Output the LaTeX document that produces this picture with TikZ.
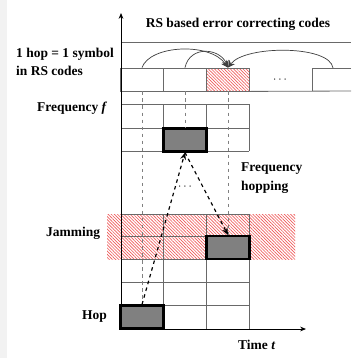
\documentclass[tikz,border=0pt]{standalone}
\usepackage{fontspec}
\setmainfont{Liberation Serif}
\usetikzlibrary{arrows.meta, patterns.meta, positioning}
\definecolor{gridgray}{RGB}{105,105,105}
\definecolor{hopgray}{RGB}{128,128,128}
\definecolor{jamred}{RGB}{240,90,90}

\begin{document}
\begin{tikzpicture}[x=0.03cm,y=-0.03cm,
    lbl/.style={font=\fontsize{11.5}{15.5}\selectfont\bfseries,inner sep=0pt},
    gridline/.style={draw=gridgray,line width=0.7pt},
    symbox/.style={rectangle,draw=gridgray,line width=0.7pt,minimum width=1.29cm,minimum height=0.69cm,inner sep=0pt},
    hopbox/.style={rectangle,draw=black,fill=hopgray,line width=1.8pt,minimum width=1.29cm,minimum height=0.69cm,inner sep=0pt},
    jamfill/.style={pattern={Lines[angle=-45,distance=1.9pt,line width=0.55pt]},pattern color=jamred},
    guide/.style={draw=gray,dashed,line width=0.6pt},
    hoparrow/.style={draw=black,dashed,line width=1pt,-{Stealth[length=6pt,width=5pt]}},
    codearc/.style={draw=black!75,line width=0.6pt,-{Stealth[length=6pt,width=6pt]}}]

    % page
    \useasboundingbox (0,0) rectangle (351,358);
    \fill[white] (0,0) rectangle (351,358);
    \fill[black!5] (0,0) rectangle (7,358);

    % jamming band
    \fill[jamfill] (107,214) rectangle (295,259);

    % upper grid
    \foreach \y in {104,128,151} \draw[gridline] (121,\y) -- (249,\y);
    \foreach \x in {163,206,249} \draw[gridline] (\x,104) -- (\x,151);

    % lower grid
    \foreach \y in {214,236,259,282,305} \draw[gridline] (121,\y) -- (249,\y);
    \foreach \x in {163,206,249} \draw[gridline] (\x,214) -- (\x,329);

    % RS codeword
    \draw[gridline] (121,42) -- (351,42);
    \node[symbox] (sym1) at (142,79.5) {};
    \node[symbox] (sym2) at (185,79.5) {};
    \node[symbox,jamfill] (sym3) at (228,79.5) {};
    \draw[gridline] (sym3.south east) -- (351,91);
    \draw[gridline] (351,68) -- (312,68) -- (312,91);
    \coordinate (sym4) at (333,68);
    \node[inner sep=0pt] (rsdots) at (280,80) {$\cdots$};

    % hops
    \node[hopbox] (hop) at (142,317) {};
    \node[hopbox] (mid) at (185,140) {};
    \node[hopbox] (jam) at (228,247.5) {};

    % guides from symbols to hops
    \draw[guide] (sym1.south) -- (hop.north);
    \draw[guide] (sym2.south) -- (mid.north);
    \draw[guide] (sym3.south) -- (jam.north);

    % axes
    \draw[line width=0.7pt,-{Stealth[length=5pt,width=4pt]}] (121,329) -- (121,13);
    \draw[line width=0.7pt,-{Stealth[length=5pt,width=4pt]}] (121,329) -- (306,329);

    % frequency hopping
    \draw[hoparrow] (hop.north) -- (mid.south);
    \draw[hoparrow] (mid.south) -- (jam.north);
    \node[inner sep=0pt] (hopdots) at (185,187) {$\cdots$};

    % code arcs
    \draw[codearc] (sym1.north) .. controls (150,45) and (210,42) .. (sym3.north);
    \draw[codearc] (sym2.north) .. controls (190,45) and (220,48) .. (sym3.north);
    \draw[codearc] (sym4) .. controls (330,45) and (245,45) .. (sym3.north);

    % labels
    \node[lbl] (title) at (238,24) {RS based error correcting codes};
    \node[lbl,anchor=west,align=left] (symlbl) at (16,62) {1 hop = 1 symbol\\in RS codes};
    \node[lbl,anchor=west] (freqlbl) at (37,108) {Frequency \textit{f}};
    \node[lbl,anchor=west,align=left] (fhlbl) at (241,178) {Frequency\\hopping};
    \node[lbl,anchor=west] (jamlbl) at (46,233) {Jamming};
    \node[lbl,anchor=west] (hoplbl) at (82,317) {Hop};
    \node[lbl,anchor=west] (timelbl) at (238,345) {Time \textit{t}};
\end{tikzpicture}
\end{document}
